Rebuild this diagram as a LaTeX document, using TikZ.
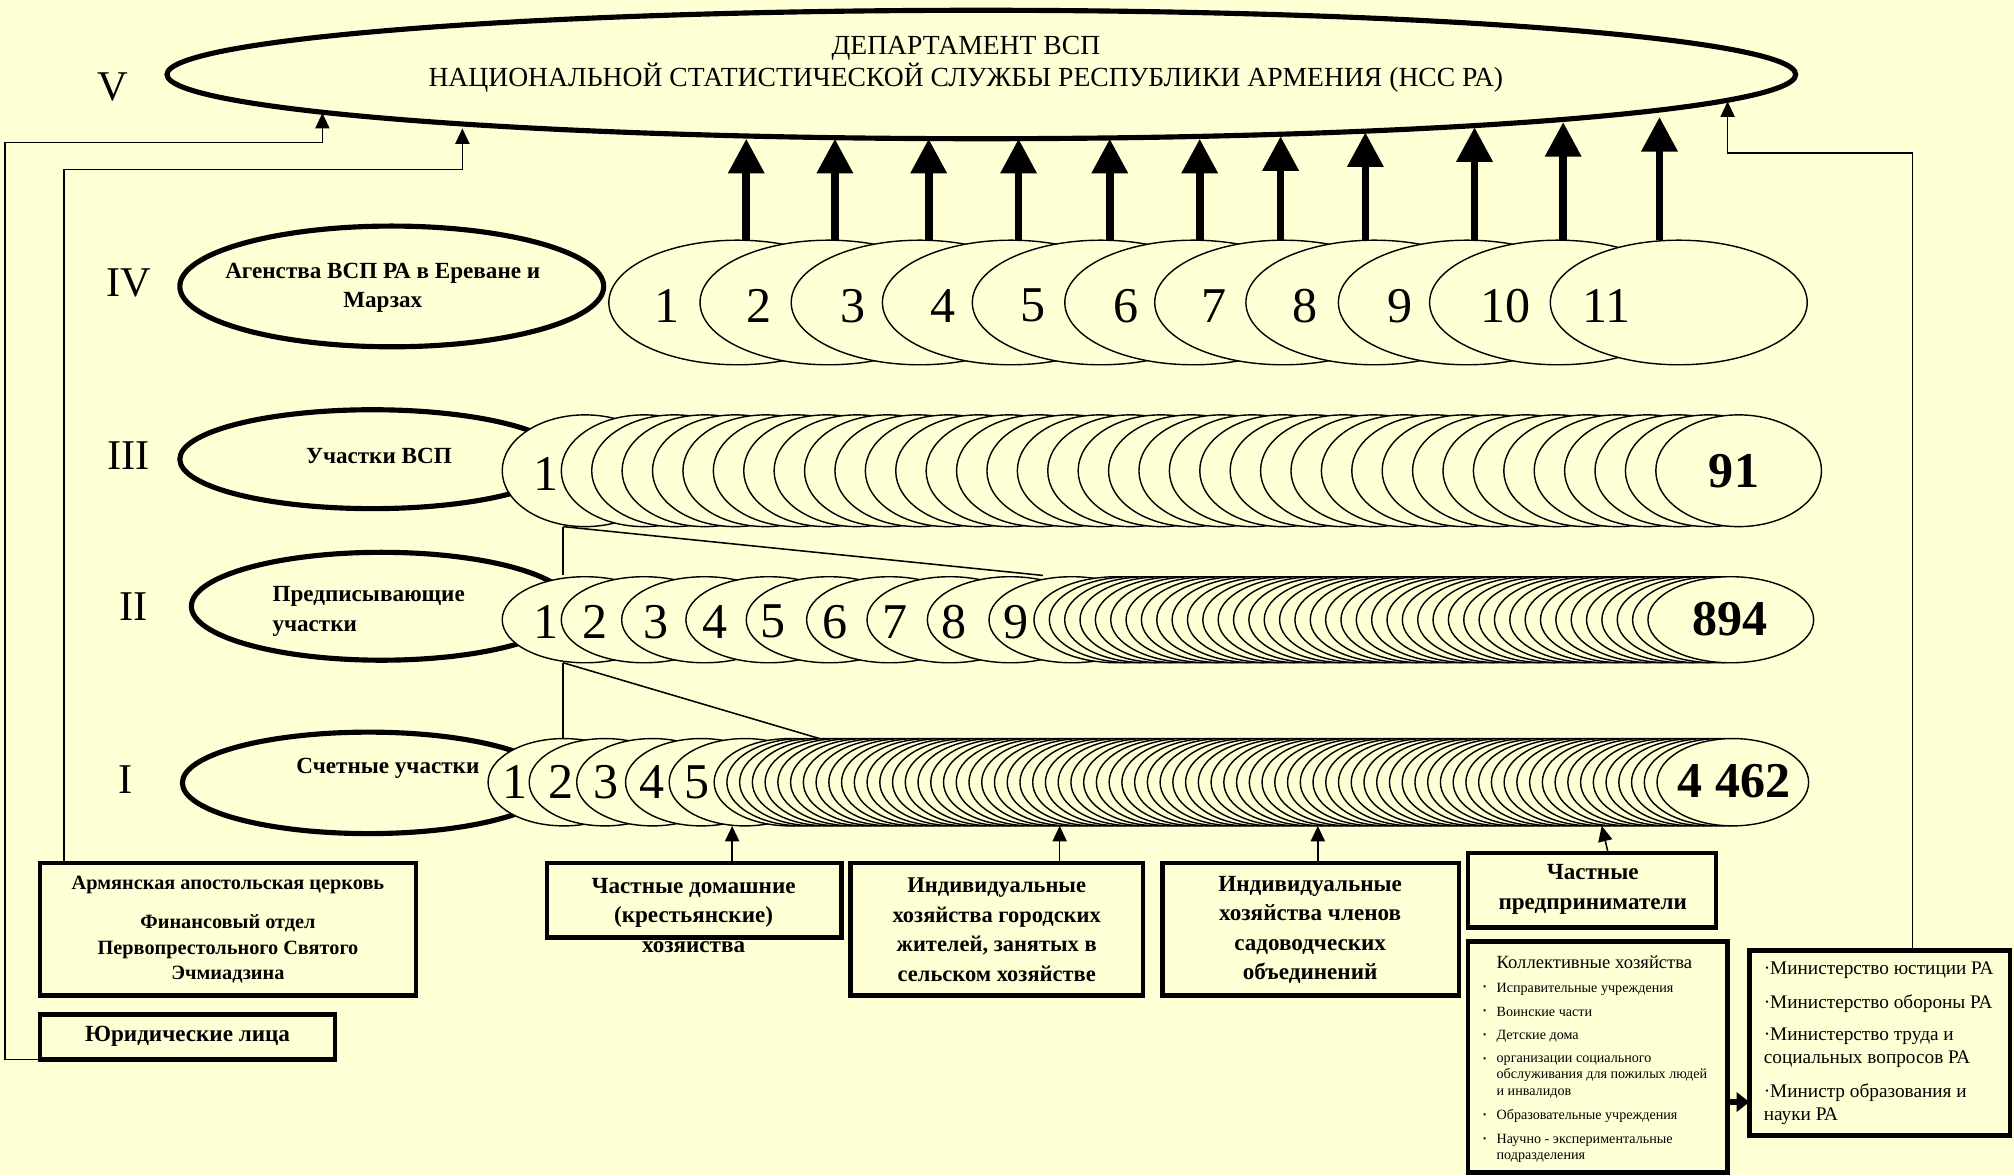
\documentclass[tikz,border=0pt]{standalone}
\usepackage{fontspec}
\setmainfont{Liberation Serif}
\usetikzlibrary{arrows.meta,shapes.geometric}
\definecolor{bg}{RGB}{255,255,214}
\newcommand\myfs[2]{\fontsize{#1}{#2}\selectfont}
\begin{document}
\begin{tikzpicture}[x=1pt,y=-1pt,
  lvl/.style={draw,ellipse,line width=4pt,fill=bg,inner sep=0pt,outer sep=0pt},
  circ/.style={draw,ellipse,line width=1.1pt,fill=bg,inner sep=0pt,outer sep=0pt},
  cfour/.style={circ,minimum width=200pt,minimum height=97pt},
  cthree/.style={circ,minimum width=129pt,minimum height=87pt},
  ctwo/.style={circ,minimum width=129pt,minimum height=67pt},
  cone/.style={circ,minimum width=118pt,minimum height=68pt},
  box/.style={draw,line width=3.5pt,fill=bg,inner sep=0pt,outer sep=0pt},
  roman/.style={font=\myfs{33}{36},inner sep=0pt},
  lbl/.style={font=\bfseries\myfs{18}{23},align=center,inner sep=0pt},
  dig/.style={font=\myfs{39}{40},inner sep=0pt},
  bdig/.style={font=\bfseries\myfs{39}{40},inner sep=0pt},
  btxt/.style={font=\bfseries\myfs{18}{23},align=center,inner sep=0pt},
  itm/.style={font=\myfs{11}{12.5},align=left,anchor=west,inner sep=0pt},
  mtxt/.style={font=\myfs{15}{18},align=left,anchor=west,inner sep=0pt},
  conn/.style={line width=1.2pt},
  sarrow/.style={line width=1.2pt,-{Triangle[width=11pt,length=12pt]}},
  barrow/.style={line width=6pt,-{Triangle[width=27pt,length=27pt]}},
]
\fill[bg] (0,0) rectangle (1568,915);
\useasboundingbox (0,0) rectangle (1568,915);

% level V
\node[lvl,minimum width=1268pt,minimum height=100pt] (top) at (764,58) {};
\node[font=\myfs{21.5}{25},align=center,inner sep=0pt] (title) at (752,50)
  {ДЕПАРТАМЕНТ ВСП\\НАЦИОНАЛЬНОЙ СТАТИСТИЧЕСКОЙ СЛУЖБЫ РЕСПУБЛИКИ АРМЕНИЯ (НСС РА)};

% roman numerals
\node[roman] (rV) at (88,68) {V};
\node[roman] (rIV) at (100,220) {IV};
\node[roman] (rIII) at (100,355) {III};
\node[roman] (rII) at (104,472) {II};
\node[roman] (rI) at (98,607) {I};

% level label ellipses
\node[lvl,minimum width=330pt,minimum height=94pt] (eIV) at (305,223) {};
\node[lvl,minimum width=300pt,minimum height=77pt] (eIII) at (290,357.5) {};
\node[lvl,minimum width=296pt,minimum height=84pt] (eII) at (297,472) {};
\node[lvl,minimum width=290pt,minimum height=79pt] (eI) at (287,609.5) {};

% free ends of the thin fan lines
\coordinate (d1) at (812,448);
\coordinate (d2) at (638,575);

% row IV
\foreach \l [count=\i] in {474,545,616,687,757,829,899,970,1042,1113,1207}
  {\node[cfour] (r4-\i) at (\l+100,235.5) {};}
\foreach \x/\t [count=\i] in {519/1,591/2,664/3,734/4,804/5,877/6,945/7,1016/8,1090/9,1172/10,1251/11}
  {\node[dig] (l4-\i) at (\x,238) {\t};}

% row III
\node[cthree] (r3-1) at (391+64.5,366.5) {};
\foreach \k in {0,...,36}{
  \pgfmathtruncatemacro\idx{\k+2}
  \pgfmathsetmacro\cx{437+\k*23.67+64.5}
  \node[cthree] (r3-\idx) at (\cx,366.5) {};}
\node[dig] (l3-1) at (425,369) {1};
\node[bdig] (l3-91) at (1350,367) {91};

% thin fan lines III -> II
\draw[conn] ([xshift=-17pt]r3-1.south) -- ([xshift=-17pt]r3-1.south |- d1);
\draw[conn] ([xshift=-17pt]r3-1.south) -- (d1);

% row II
\foreach \l [count=\i] in {391,437,484,534,581,628,675,722,770}
  {\node[ctwo] (r2-\i) at (\l+64.5,482.5) {};}
\foreach \k in {0,...,40}{
  \pgfmathtruncatemacro\idx{\k+10}
  \pgfmathsetmacro\cx{805+\k*11.95+64.5}
  \node[ctwo] (r2-\idx) at (\cx,482.5) {};}
\foreach \x/\t [count=\i] in {425/1,463/2,511/3,557/4,602/5,650/6,697/7,743/8,791/9}
  {\node[dig] (l2-\i) at (\x,484) {\t};}
\node[bdig] (l2-894) at (1347,482) {894};

% thin fan lines II -> I
\draw[conn] ([xshift=-17pt]r2-1.south) -- ([xshift=-17pt]r2-1.south |- d2);
\draw[conn] ([xshift=-17pt]r2-1.south) -- (d2);

% row I
\foreach \l [count=\i] in {380,412,449,487,521}
  {\node[cone] (r1-\i) at (\l+59,609) {};}
\foreach \k in {0,...,74}{
  \pgfmathtruncatemacro\idx{\k+6}
  \pgfmathsetmacro\cx{556+\k*9.92+59}
  \node[cone] (r1-\idx) at (\cx,609) {};}
\foreach \x/\t [count=\i] in {401/1,437/2,472/3,508/4,543/5}
  {\node[dig] (l1-\i) at (\x,609) {\t};}
\node[bdig] (l1-4462) at (1350,608) {4 462};

% level label texts
\node[lbl] (tIV) at (298,224) {Агенства ВСП РА в Ереване и\\Марзах};
\node[lbl] (tIII) at (295,355) {Участки ВСП};
\node[lbl,align=left,anchor=west] (tII) at (212,476) {Предписывающие\\участки};
\node[lbl] (tI) at (302,598) {Счетные участки};

% thick arrows IV -> V
\foreach \x/\y/\j [count=\i] in {581/108/1,650/108/2,723/108/3,793/108/4,864/108/5,934/108/6,997/106/7,1063/103/8,1148/99/9,1217/95/10,1292/91/11}{
  \coordinate (tip-\i) at (\x,\y);
  \draw[barrow] (tip-\i |- r4-\j.north) -- (tip-\i);}

% boxes
\node[box,minimum width=293pt,minimum height=103pt] (church) at (177.5,723.5) {};
\node[box,minimum width=230pt,minimum height=35pt] (jur) at (146,807.5) {};
\node[box,minimum width=229pt,minimum height=58pt] (pd) at (540.5,701) {};
\node[box,minimum width=228pt,minimum height=103pt] (city) at (776,723.5) {};
\node[box,minimum width=231pt,minimum height=103pt] (gard) at (1020.5,723.5) {};
\node[box,minimum width=193pt,minimum height=58pt] (ent) at (1239.5,693) {};
\node[box,minimum width=202pt,minimum height=180pt] (coll) at (1244,823) {};
\node[box,minimum width=203pt,minimum height=144pt] (min) at (1463.5,812) {};

% box texts
\node[btxt,font=\bfseries\myfs{15.8}{20}] (tchurch) at (177.5,724)
  {Армянская апостольская церковь\\[10pt]Финансовый отдел\\Первопрестольного Святого\\Эчмиадзина};
\node[btxt,font=\bfseries\myfs{18}{22}] (tjur) at (146,807) {Юридические лица};
\node[btxt] (tpd) at (540,712.5) {Частные домашние\\(крестьянские)\\хозяйства};
\node[btxt,font=\bfseries\myfs{17.5}{23}] (tcity) at (776,724) {Индивидуальные\\хозяйства городских\\жителей, занятых в\\сельском хозяйстве};
\node[btxt] (tgard) at (1020,724) {Индивидуальные\\хозяйства членов\\садоводческих\\объединений};
\node[btxt] (tent) at (1240,692.5) {Частные\\предприниматели};

% collective households
\node[font=\myfs{14.5}{16},anchor=west,inner sep=0pt] (ctitle) at (1165,749) {Коллективные хозяйства};
\foreach \y/\yy/\t [count=\i] in {770/770/Исправительные учреждения,788/788/Воинские части,807/807/Детские дома,838.5/826/{организации социального\\обслуживания для пожилых людей\\и инвалидов},869/869/Образовательные учреждения,894/888/{Научно - экспериментальные\\подразделения}}{
  \node[itm] (ci-\i) at (1165,\y) {\t};
  \node[font=\bfseries\myfs{11}{12},inner sep=0pt] (cb-\i) at (1156,\yy) {·};}

% ministries
\node[mtxt] (m1) at (1373,755) {·Министерство юстиции РА};
\node[mtxt] (m2) at (1373,781) {·Министерство обороны РА};
\node[mtxt] (m3) at (1373,816) {·Министерство труда и\\социальных вопросов РА};
\node[mtxt] (m4) at (1373,859.5) {·Министр образования и\\науки РА};

% arrows from boxes to row I
\draw[sarrow] ([xshift=29.5pt]pd.north) -- ([xshift=29.5pt]pd.north |- r1-80.south);
\draw[sarrow] ([xshift=49pt]city.north) -- ([xshift=49pt]city.north |- r1-80.south);
\draw[sarrow] ([xshift=5.5pt]gard.north) -- ([xshift=5.5pt]gard.north |- r1-80.south);
\draw[sarrow] ([xshift=12.5pt]ent.north) -- ([xshift=7.5pt]ent.north |- r1-80.south);

% side connectors to level V
\coordinate (tipA) at (251,88);
\coordinate (tipB) at (360,100);
\coordinate (tipC) at (1345,79);
\draw[sarrow] (jur.south west) -- ++(-27,0) -- ++(0,-714) -| (tipA);
\draw[sarrow] ([xshift=19pt]church.north west) -- ++(0,-540) -| (tipB);
\draw[sarrow] ([xshift=25.5pt]min.north) -- ++(0,-621) -| (tipC);

% collective -> ministries
\draw[line width=4pt,-{Triangle[width=15pt,length=10pt]}] ([yshift=-35pt]coll.east) -- ([yshift=-35pt]coll.east -| min.west);
\end{tikzpicture}
\end{document}
